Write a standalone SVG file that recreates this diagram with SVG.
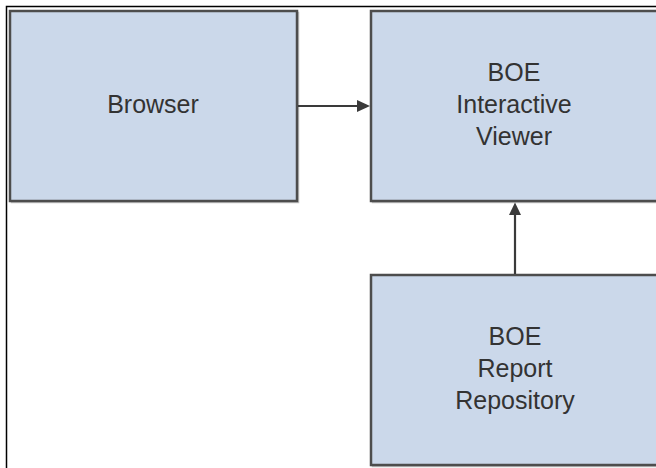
<svg xmlns="http://www.w3.org/2000/svg" width="656" height="468" viewBox="0 0 656 468">
<style>
.box{fill:#cbd8ea;stroke:#4d4d4d;stroke-width:2.5}
.shadow{fill:none;stroke:#9a9a9a;stroke-width:1.5;opacity:0.6}
.lbl{font-family:"Liberation Sans",Arial,sans-serif;font-size:25px;fill:#333;text-anchor:middle}
.conn{stroke:#3a3a3a;stroke-width:2.2;fill:none}
.head{fill:#3a3a3a}
</style>
<rect x="0" y="0" width="656" height="468" fill="#fff"/>
<path d="M6.5,468 V6.5 H656" fill="none" stroke="#000" stroke-width="1.5"/>
<g id="browser">
<rect class="shadow" x="11.5" y="12.5" width="287" height="190"/>
<rect class="box" x="10" y="11" width="287" height="190"/>
<text class="lbl" x="153" y="113">Browser</text>
</g>
<g id="viewer">
<rect class="shadow" x="372.5" y="12.5" width="300" height="190"/>
<rect class="box" x="371" y="11" width="300" height="190"/>
<text class="lbl" x="514" y="81">BOE</text>
<text class="lbl" x="514" y="113">Interactive</text>
<text class="lbl" x="514" y="145">Viewer</text>
</g>
<g id="repository">
<rect class="shadow" x="372.5" y="276.5" width="300" height="190"/>
<rect class="box" x="371" y="275" width="300" height="190"/>
<text class="lbl" x="515" y="345">BOE</text>
<text class="lbl" x="515" y="377">Report</text>
<text class="lbl" x="515" y="409">Repository</text>
</g>
<g id="connectors">
<line class="conn" x1="298" y1="106" x2="360" y2="106"/>
<polygon class="head" points="370,106 357,100 357,112"/>
<line class="conn" x1="515" y1="274" x2="515" y2="212"/>
<polygon class="head" points="515,202.5 509,215 521,215"/>
</g>
</svg>
